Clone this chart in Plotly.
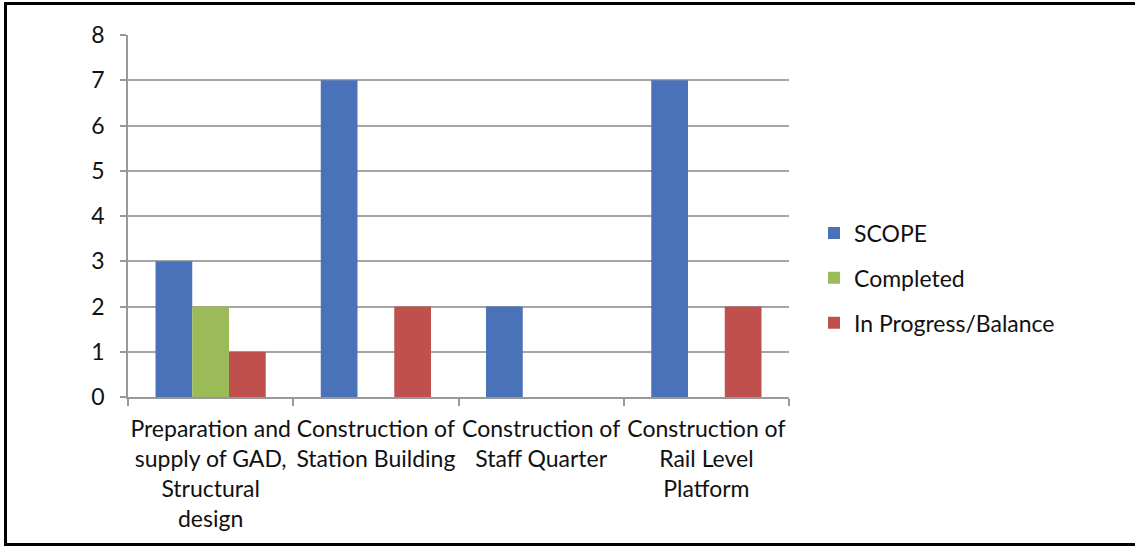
import plotly.graph_objects as go

categories = [
    "Preparation and<br>supply of GAD,<br>Structural<br>design",
    "Construction of<br>Station Building",
    "Construction of<br>Staff Quarter",
    "Construction of<br>Rail Level<br>Platform",
]
scope = [3, 7, 2, 7]
completed = [2, 0, 0, 0]
in_progress = [1, 2, 0, 2]
y_ticks = [0, 1, 2, 3, 4, 5, 6, 7, 8]

FONT = "Lato"
FS = 23
fig = go.Figure()
fig.add_bar(x=categories, y=scope, name="SCOPE", marker_color="#4A72B9", marker_line_width=0, legendgroup="a")
fig.add_bar(x=categories, y=completed, name="Completed", marker_color="#9BBB59", marker_line_width=0, legendgroup="b")
fig.add_bar(x=categories, y=in_progress, name="In Progress/Balance", marker_color="#C0504D", marker_line_width=0, legendgroup="c")

W, H = 1135, 547
L, R, T, B = 128, 346, 35, 150
pw = W - L - R
ph = H - T - B

fig.update_layout(
    width=W, height=H,
    margin=dict(l=L, r=R, t=T, b=B, pad=0, autoexpand=False),
    barmode="group", bargap=0.333, bargroupgap=0,
    plot_bgcolor="white", paper_bgcolor="white",
    font=dict(family=FONT, size=FS, color="#111111"),
    legend=dict(x=(814 - L) / pw, xanchor="left", y=(H - B - 278) / ph, yanchor="middle",
                font=dict(family=FONT, size=FS, color="#111111"),
                tracegroupgap=12, itemwidth=30, traceorder="grouped"),
    xaxis=dict(showline=True, linecolor="#999999", linewidth=1.5, ticks="outside",
               tickson="boundaries", ticklen=7, tickcolor="#999999", tickwidth=1.5,
               tickangle=0, automargin=False, ticklabelstandoff=11,
               tickfont=dict(family=FONT, size=FS, color="#111111"), showgrid=False),
    yaxis=dict(range=[0, 8], tickvals=y_ticks, showgrid=True, gridcolor="#A6A6A6", gridwidth=1.5,
               showline=True, linecolor="#999999", linewidth=1.5, ticks="outside", ticklen=6,
               tickcolor="#999999", tickwidth=1.5, zeroline=False, automargin=False,
               tickfont=dict(family=FONT, size=FS, color="#111111"), ticklabelstandoff=11),
    shapes=[dict(type="rect", xref="paper", yref="paper",
                 x0=(5.5 - L) / pw, x1=(1145 - L) / pw,
                 y0=(H - B - 544.5) / ph, y1=(H - B - 3.5) / ph,
                 line=dict(color="black", width=3), fillcolor="rgba(0,0,0,0)", layer="below")],
)
fig.write_html("out.html", config={"displayModeBar": False},
               post_script="document.body.style.margin='0';document.body.style.overflow='hidden';")
